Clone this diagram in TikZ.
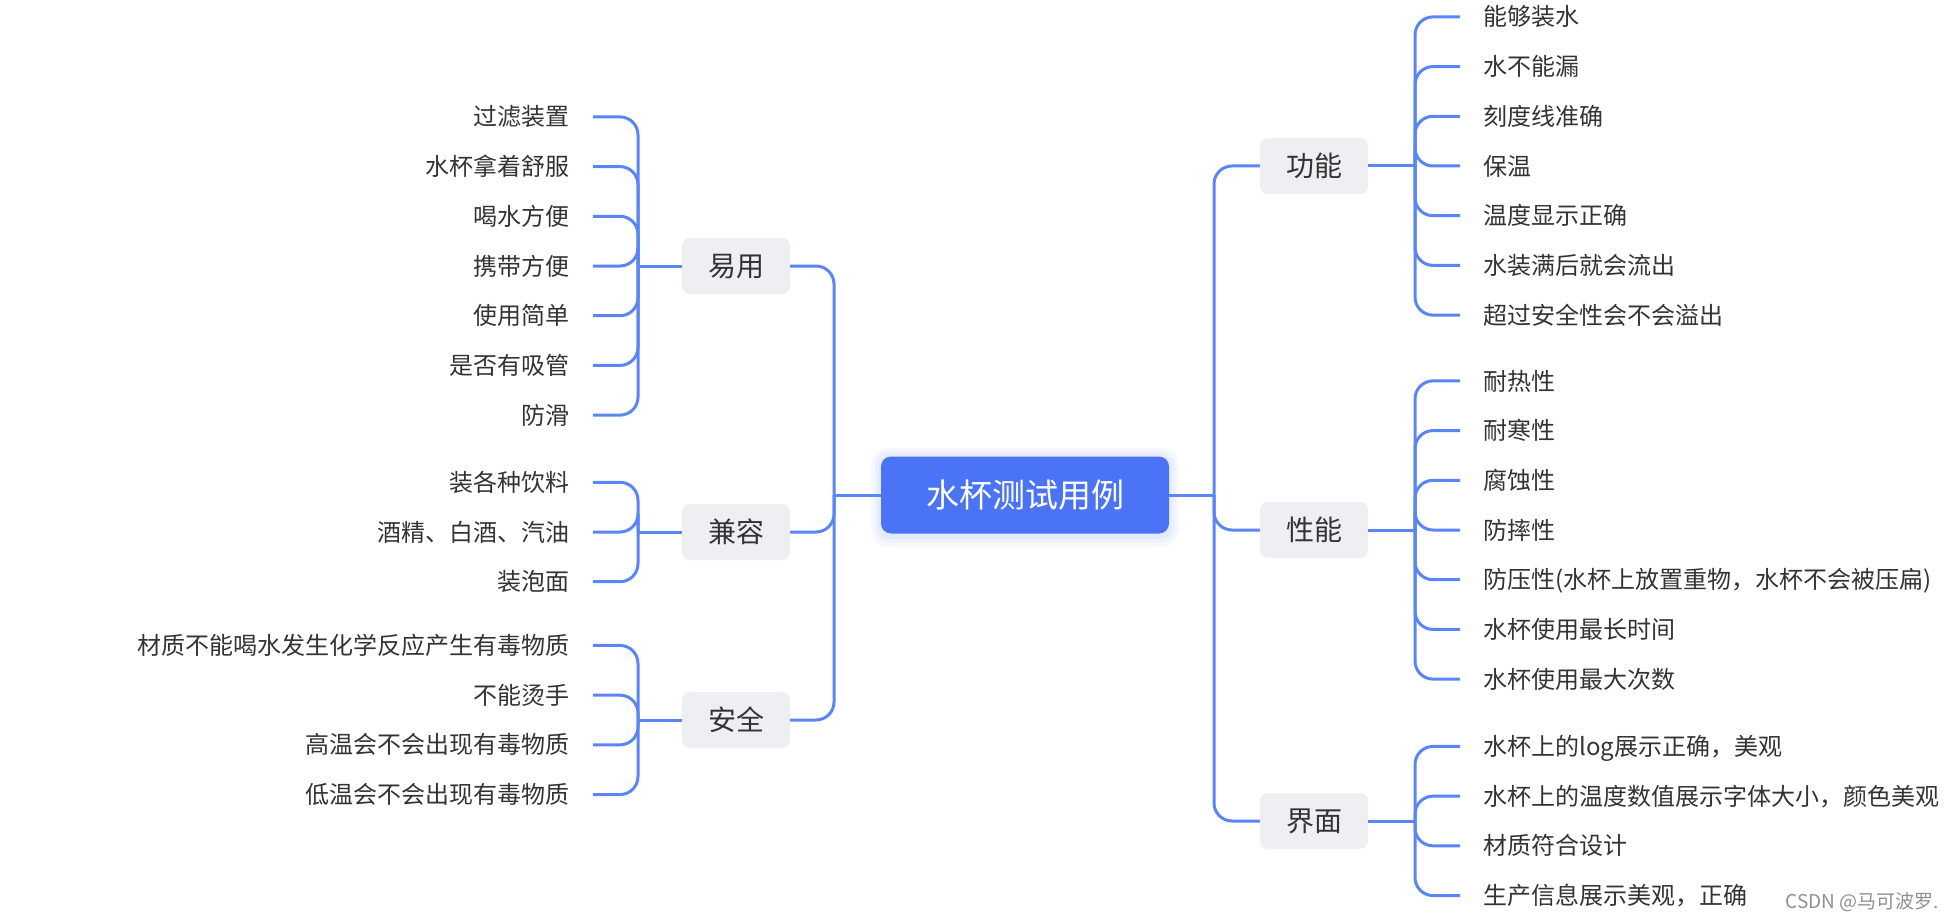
\documentclass[tikz,border=0pt]{standalone}
\usepackage{fontspec}
\setmainfont{Noto Sans CJK SC}
\definecolor{linec}{HTML}{5A86F5}
\definecolor{rootc}{HTML}{4A74F5}
\definecolor{boxc}{HTML}{EEEFF2}
\definecolor{txtc}{HTML}{333333}
\definecolor{wmc}{HTML}{909090}
\tikzset{
  conn/.style={draw=linec, line width=3pt, rounded corners=18pt},
  leafR/.style={anchor=west, inner xsep=23pt, inner ysep=0pt, font=\fontsize{24}{28}\selectfont, text=txtc, text height=19.9pt, text depth=1.7pt},
  leafL/.style={leafR, anchor=east},
  branch/.style={fill=boxc, rounded corners=8pt, minimum width=108pt, minimum height=56pt, inner sep=0pt, font=\fontsize{28}{32}\selectfont, text=txtc, text height=23.2pt, text depth=2pt},
  rootbox/.style={fill=rootc, rounded corners=10pt, minimum width=288pt, minimum height=77pt, inner sep=0pt, font=\fontsize{33}{38}\selectfont, text=white, text height=27.4pt, text depth=2.3pt},
  shadowbox/.style={fill=rootc, opacity=0.05},
}
\begin{document}
\begin{tikzpicture}[x=1pt,y=-1pt]
\useasboundingbox (0,0) rectangle (1953,920);
% soft glow of the root box
\fill[shadowbox, rounded corners=18pt] (871,448) rectangle (1179,547);
\fill[shadowbox, rounded corners=15pt] (875,451) rectangle (1175,543);
\fill[shadowbox, rounded corners=12pt] (878,454) rectangle (1172,539);
% root and branches
\node[rootbox] (root) at (1025,495) {水杯测试用例};
\node[branch] (gn) at (1314,166) {功能};
\node[branch] (xn) at (1314,530) {性能};
\node[branch] (jm) at (1314,821) {界面};
\node[branch] (yy) at (736,266) {易用};
\node[branch] (jr) at (736,532) {兼容};
\node[branch] (aq) at (736,720) {安全};
% junction points
\coordinate (rj) at (1214,495);
\coordinate (lj) at (834,495);
\coordinate (gnj) at (1415,166);
\coordinate (xnj) at (1415,530);
\coordinate (jmj) at (1415,821);
\coordinate (yyj) at (638,266);
\coordinate (jrj) at (638,532);
\coordinate (aqj) at (638,720);
% leaves: 功能
\node[leafR] (g1) at (1460,16.9) {能够装水};
\node[leafR] (g2) at (1460,66.6) {水不能漏};
\node[leafR] (g3) at (1460,116.3) {刻度线准确};
\node[leafR] (g4) at (1460,166) {保温};
\node[leafR] (g5) at (1460,215.7) {温度显示正确};
\node[leafR] (g6) at (1460,265.4) {水装满后就会流出};
\node[leafR] (g7) at (1460,315.1) {超过安全性会不会溢出};
% leaves: 性能
\node[leafR] (x1) at (1460,380.9) {耐热性};
\node[leafR] (x2) at (1460,430.6) {耐寒性};
\node[leafR] (x3) at (1460,480.3) {腐蚀性};
\node[leafR] (x4) at (1460,530) {防摔性};
\node[leafR] (x5) at (1460,579.7) {防压性(水杯上放置重物，水杯不会被压扁)};
\node[leafR] (x6) at (1460,629.4) {水杯使用最长时间};
\node[leafR] (x7) at (1460,679.1) {水杯使用最大次数};
% leaves: 界面
\node[leafR] (j1) at (1460,746.45) {水杯上的log展示正确，美观};
\node[leafR] (j2) at (1460,796.15) {水杯上的温度数值展示字体大小，颜色美观};
\node[leafR] (j3) at (1460,845.85) {材质符合设计};
\node[leafR] (j4) at (1460,895.55) {生产信息展示美观，正确};
% leaves: 易用
\node[leafL] (y1) at (593,116.9) {过滤装置};
\node[leafL] (y2) at (593,166.6) {水杯拿着舒服};
\node[leafL] (y3) at (593,216.3) {喝水方便};
\node[leafL] (y4) at (593,266) {携带方便};
\node[leafL] (y5) at (593,315.7) {使用简单};
\node[leafL] (y6) at (593,365.4) {是否有吸管};
\node[leafL] (y7) at (593,415.1) {防滑};
% leaves: 兼容
\node[leafL] (r1) at (593,482.3) {装各种饮料};
\node[leafL] (r2) at (593,532) {酒精、白酒、汽油};
\node[leafL] (r3) at (593,581.7) {装泡面};
% leaves: 安全
\node[leafL] (a1) at (593,645.45) {材质不能喝水发生化学反应产生有毒物质};
\node[leafL] (a2) at (593,695.15) {不能烫手};
\node[leafL] (a3) at (593,744.85) {高温会不会出现有毒物质};
\node[leafL] (a4) at (593,794.55) {低温会不会出现有毒物质};
% connectors root - branches
\draw[conn] (root.east) -- (rj);
\draw[conn] (root.west) -- (lj);
\foreach \b in {gn,xn,jm} \draw[conn] (\b.west) -| (rj);
\foreach \b in {yy,jr,aq} \draw[conn] (\b.east) -| (lj);
% connectors branches - leaves
\draw[conn] (gn.east) -- (gnj);
\foreach \l in {g1,g2,g3,g4,g5,g6,g7} \draw[conn] (\l.west) -| (gnj);
\draw[conn] (xn.east) -- (xnj);
\foreach \l in {x1,x2,x3,x4,x5,x6,x7} \draw[conn] (\l.west) -| (xnj);
\draw[conn] (jm.east) -- (jmj);
\foreach \l in {j1,j2,j3,j4} \draw[conn] (\l.west) -| (jmj);
\draw[conn] (yy.west) -- (yyj);
\foreach \l in {y1,y2,y3,y4,y5,y6,y7} \draw[conn] (\l.east) -| (yyj);
\draw[conn] (jr.west) -- (jrj);
\foreach \l in {r1,r2,r3} \draw[conn] (\l.east) -| (jrj);
\draw[conn] (aq.west) -- (aqj);
\foreach \l in {a1,a2,a3,a4} \draw[conn] (\l.east) -| (aqj);
% watermark
\node[font=\fontsize{19}{21}\selectfont, text=wmc, anchor=east, inner sep=0pt] (wm) at (1939,902) {CSDN @马可波罗.};
\end{tikzpicture}
\end{document}
